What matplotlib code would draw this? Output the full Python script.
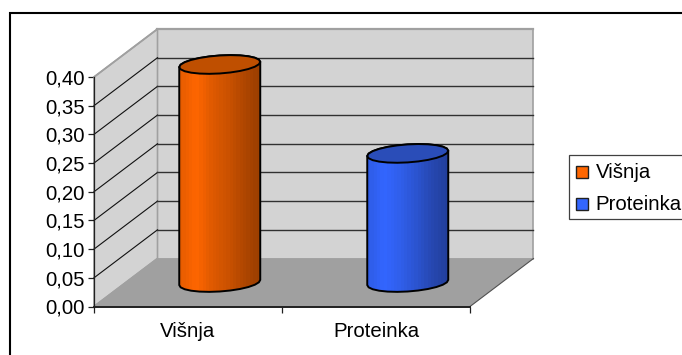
import numpy as np
import matplotlib
matplotlib.use('Agg')
import matplotlib.pyplot as plt
from matplotlib.colors import LinearSegmentedColormap
from matplotlib.patches import PathPatch, Polygon, Rectangle
from matplotlib.path import Path

plt.rcParams['font.family'] = ['Liberation Sans', 'DejaVu Sans']

categories = ['Višnja', 'Proteinka']
values = [0.38, 0.225]
y_ticks = [0.00, 0.05, 0.10, 0.15, 0.20, 0.25, 0.30, 0.35, 0.40]
side_colors = [['#E65C00', '#FF6600', '#E05A00', '#CC5200', '#B34800', '#9C3F00'],
               ['#2F5CE6', '#3366FF', '#305FEC', '#2C55D2', '#2749B4', '#223F9C']]
cap_colors = ['#BF4F00', '#2A4DB8']
font_px = 14.7

W, H = 682, 355
fig = plt.figure(figsize=(W / 100, H / 100), dpi=100)

# frame around the chart, open at the right and bottom edge of the image
frame = fig.add_axes([0, 0, 1, 1])
frame.set_xlim(0, W)
frame.set_ylim(H, 0)
frame.axis('off')
frame.plot([9.5, 9.5, W], [H, 13, 13], color='black', lw=1.5, solid_joinstyle='miter')

# front plane of the plot box
x_left, x_right, y_top, y_bottom = 94, 470, 77, 306.5
ax = fig.add_axes([x_left / W, (H - y_bottom) / H, (x_right - x_left) / W, (y_bottom - y_top) / H])
ax.set_xlim(0, 2)
ax.set_ylim(0, 0.4)
ax.patch.set_visible(False)
for s in ax.spines.values():
    s.set_visible(False)

# depth of the box in data units
dx = 63.5 / (x_right - x_left) * 2
dy = 48 / (y_bottom - y_top) * 0.4
ym = 0.4

wall = '#D3D3D3'
edge = '#A0A0A0'
ax.add_patch(Polygon([(dx, dy), (2 + dx, dy), (2 + dx, ym + dy), (dx, ym + dy)],
                     fc=wall, ec=edge, lw=1.2, clip_on=False, zorder=1))
ax.add_patch(Polygon([(0, 0), (dx, dy), (dx, ym + dy), (0, ym)],
                     fc=wall, ec=edge, lw=1.2, clip_on=False, zorder=1))
ax.add_patch(Polygon([(0, 0), (2, 0), (2 + dx, dy), (dx, dy)],
                     fc='#A0A0A0', ec='none', clip_on=False, zorder=1))
ax.plot([2, 2 + dx], [0, dy], color='#505050', lw=0.8, clip_on=False, zorder=1.5)
ax.plot([dx, 0], [dy, 0], color=edge, lw=1.2, clip_on=False, zorder=1.5)

# gridlines on back and side wall
for t in y_ticks[1:-1]:
    ax.plot([0, dx], [t, t + dy], color='#101010', lw=0.8, clip_on=False, zorder=2)
    ax.plot([dx, 2 + dx], [t + dy, t + dy], color='#303030', lw=1.0, clip_on=False, zorder=2)
ax.plot([dx, 2 + dx], [ym + dy, ym + dy], color=edge, lw=1.6, clip_on=False, zorder=2)
ax.plot([0, dx], [ym, ym + dy], color=edge, lw=1.2, clip_on=False, zorder=2)

# cylinders stand halfway into the box, ellipses are coarse polygons
half_w = 40.5 / (x_right - x_left) * 2
b = 9.0 / (y_bottom - y_top) * 0.4
s = 2.6 / (y_bottom - y_top) * 0.4
t = np.linspace(0, 2 * np.pi, 25)
top_half = t[t <= np.pi]
low_half = t[t >= np.pi]
for i, v in enumerate(values):
    cx = i + 0.5 + dx / 2
    y0 = dy / 2
    # outline: back of the top, left edge down, front of the base, right edge up
    upper_x = cx + half_w * np.cos(top_half)
    upper_y = y0 + v + b * np.sin(top_half) + s * np.cos(top_half)
    lower_x = cx + half_w * np.cos(low_half)
    lower_y = y0 + b * np.sin(low_half) + s * np.cos(low_half)
    verts = np.column_stack([np.r_[upper_x, lower_x], np.r_[upper_y, lower_y]])
    body = PathPatch(Path(np.vstack([verts, verts[:1]]), closed=True), fc='none',
                     ec='black', lw=1.4, clip_on=False, zorder=4)
    cmap = LinearSegmentedColormap.from_list('side', side_colors[i])
    im = ax.imshow(np.linspace(0, 1, 24)[None, :], cmap=cmap, aspect='auto',
                   extent=[cx - half_w, cx + half_w, y0 - b * 1.2, y0 + v + b],
                   interpolation='nearest', zorder=3)
    ax.add_patch(body)
    im.set_clip_box(fig.bbox)
    im.set_clip_path(body)

    cap_x = cx + half_w * np.cos(t)
    cap_y = y0 + v + b * np.sin(t) + s * np.cos(t)
    ax.fill(cap_x, cap_y, fc=cap_colors[i], ec='black', lw=1.4, clip_on=False, zorder=5)

# restore limits changed by imshow
ax.set_xlim(0, 2)
ax.set_ylim(0, 0.4)

ax.spines['left'].set_visible(True)
ax.spines['bottom'].set_visible(True)
ax.spines['left'].set_color('#202020')
ax.spines['bottom'].set_color('#202020')
ax.spines['left'].set_linewidth(0.9)
ax.spines['bottom'].set_linewidth(1.4)
ax.spines['left'].set_zorder(6)
ax.spines['bottom'].set_zorder(6)

ax.set_yticks(y_ticks)
ax.set_yticklabels([f'{y:.2f}'.replace('.', ',') for y in y_ticks], fontsize=font_px)
ax.set_xticks([0, 1, 2])
ax.set_xticklabels([])
ax.set_xticks([0.5, 1.5], minor=True)
ax.set_xticklabels(categories, minor=True, fontsize=font_px)
ax.tick_params(axis='x', which='minor', length=0, pad=11)
ax.tick_params(axis='x', which='major', length=4, width=0.9, color='#202020')
ax.tick_params(axis='y', length=4, width=0.9, color='#202020', pad=2.5)

# legend box
frame.add_patch(Rectangle((569, 154.5), 120, 64, fc='white', ec='#404040', lw=0.9, zorder=2))
for i, name in enumerate(categories):
    yc = 172 + i * 32
    frame.add_patch(Rectangle((576, yc - 6), 12, 12, fc=side_colors[i][1], ec='#202020',
                              lw=1.0, zorder=3))
    frame.text(595.5, yc + 0.5, name, fontsize=font_px, va='center', ha='left', zorder=3)

fig.savefig('out.png', dpi=100)
